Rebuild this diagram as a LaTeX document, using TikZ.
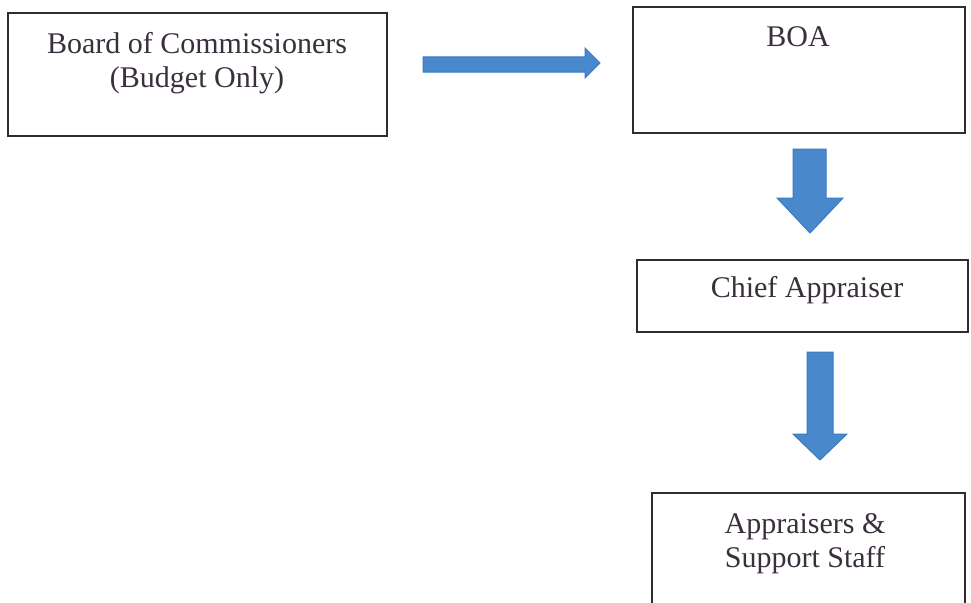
\documentclass[tikz,border=0pt]{standalone}
\usepackage{fontspec}
\setmainfont{Liberation Serif}
\begin{document}
\begin{tikzpicture}[x=1pt,y=-1pt,
  box/.style={draw=boxline, line width=1.4pt, fill=none, inner sep=0pt},
  txt/.style={text=textcol, font=\fontsize{30}{34}\selectfont, align=center, inner sep=0pt, anchor=base},
  blockarrow/.style={fill=arrowfill, draw=arrowline, line width=1pt, line join=miter}]
\definecolor{boxline}{HTML}{2E2C2E}
\definecolor{textcol}{HTML}{3A2F3C}
\definecolor{arrowfill}{HTML}{4A88CC}
\definecolor{arrowline}{HTML}{3A7BC6}
\useasboundingbox (0,0) rectangle (971,602);
\clip (0,0) rectangle (971,602);

% boxes
\node[box, minimum width=379pt, minimum height=123pt] (boc) at (197.5,74.5) {};
\node[box, minimum width=332pt, minimum height=126pt] (boa) at (799,70) {};
\node[box, minimum width=331pt, minimum height=72pt] (chief) at (802.5,296) {};
\node[box, minimum width=313pt, minimum height=160pt] (staff) at (808.5,573) {};

% labels (base anchor sits on the last line of a two-line label)
\node[txt] (boctxt) at (197,87) {Board of Commissioners\\(Budget Only)};
\node[txt] (boatxt) at (798,47) {BOA};
\node[txt] (chieftxt) at (807,297) {Chief Appraiser};
\node[txt] (stafftxt) at (805,567) {Appraisers \&\\Support Staff};

% block arrows
\coordinate (h1) at (600,63);
\draw[blockarrow] (423,57) -- (585,57) -- (585,48) -- (h1) -- (585,78) -- (585,72) -- (423,72) -- cycle;
\coordinate (d1) at (810,233);
\draw[blockarrow] (793,149) -- (826,149) -- (826,198) -- (843,198) -- (d1) -- (777,198) -- (793,198) -- cycle;
\coordinate (d2) at (820,460);
\draw[blockarrow] (807,352) -- (833,352) -- (833,434) -- (847,434) -- (d2) -- (793,434) -- (807,434) -- cycle;
\end{tikzpicture}
\end{document}
